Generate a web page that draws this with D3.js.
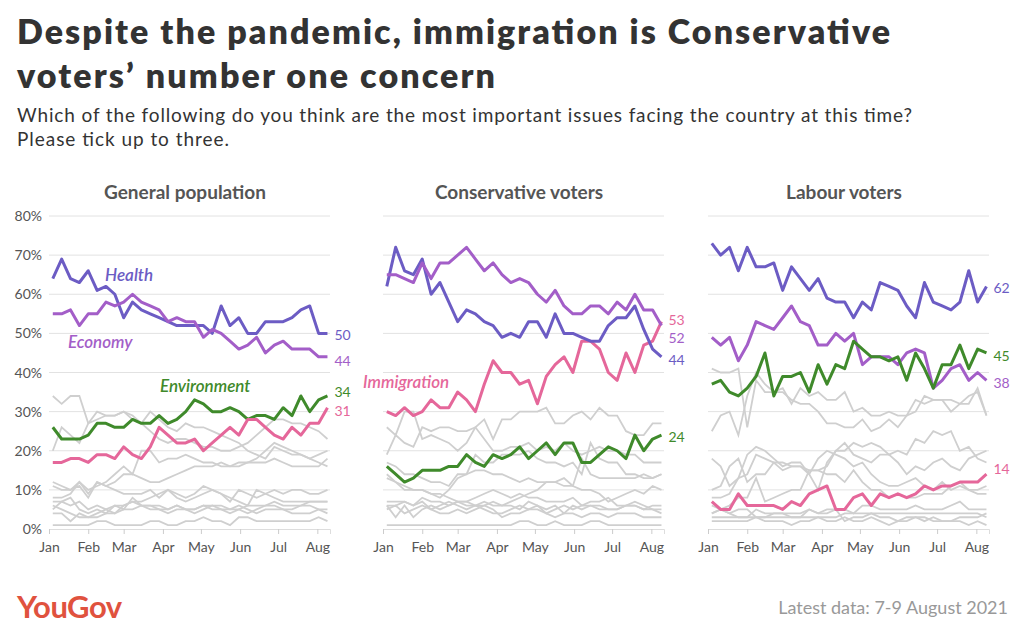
<!DOCTYPE html>
<html><head><meta charset="utf-8">
<script src="https://cdn.jsdelivr.net/npm/d3@7"></script>
<style>body{margin:0;background:#fff;font-family:Lato,"Open Sans",sans-serif}</style>
</head><body><svg id="c" width="1024" height="632"></svg>
<script>
const panels = ["General population","Conservative voters","Labour voters"];
const monthTicks = ["Jan","Feb","Mar","Apr","May","Jun","Jul","Aug"];
const yTicks = [0,10,20,30,40,50,60,70,80];

const genHealth=[64,69,64,63,66,61,62,60,54,58,56,55,54,53,52,52,52,52,50,57,52,54,50,50,53,53,53,54,56,57,50,50];
const genEconomy=[55,55,56,52,55,55,58,57,58,60,58,57,56,53,54,53,53,49,51,50,48,46,47,49,45,47,48,46,46,46,44,44];
const genEnvironment=[26,23,23,23,24,27,27,26,26,28,27,27,29,27,28,30,33,32,30,30,31,30,28,29,29,28,31,29,34,30,33,34];
const genImmigration=[17,17,18,18,17,19,19,18,21,19,18,21,26,24,22,22,23,20,22,24,26,24,28,28,26,24,23,26,24,27,27,31];
const genOther=[
[34,32,34,34,27,28,29,29,30,28,27,25,23,22,23,23,22,21,21,20,20,21,22,24,26,28,28,27,27,26,25,23],
[20,26,24,22,27,30,29,29,30,29,27,30,28,26,25,27,26,26,25,24,23,22,20,19,18,21,20,19,19,18,17,16],
[12,11,10,12,10,11,12,14,16,14,20,20,17,18,18,19,18,17,17,16,16,17,17,18,20,22,21,20,19,18,19,20],
[11,10,10,11,8,12,11,10,9,9,9,10,8,10,9,8,9,11,10,9,7,10,9,8,9,10,9,10,10,9,9,10],
[8,8,9,12,9,12,11,12,14,14,13,12,12,13,14,15,16,16,16,17,16,16,17,17,17,18,17,16,16,16,16,18],
[7,7,6,7,5,6,5,6,6,7,6,6,6,5,6,5,5,6,6,6,5,5,6,6,6,7,6,6,6,7,7,7],
[5,7,8,5,4,5,4,6,5,8,6,5,5,4,5,5,4,5,6,5,4,5,4,5,6,6,5,4,4,4,5,4],
[4,4,2,4,3,3,4,4,5,5,6,6,5,5,6,5,5,6,5,5,5,6,5,4,5,5,5,5,6,6,5,5],
[1,1,1,1,1,2,2,1,1,1,1,2,2,1,1,2,2,3,2,2,1,3,3,2,2,2,2,2,2,2,3,2],
[6,5,4,3,3,4,5,4,6,7,7,8,9,10,8,7,8,9,10,9,8,7,6,10,9,8,7,7,7,7,7,7]];

const conHealth=[62,72,66,65,69,60,63,58,53,56,55,53,52,49,50,49,53,53,49,55,50,50,49,48,48,52,54,54,57,51,46,44];
const conEconomy=[65,65,64,63,68,64,68,68,70,72,69,66,68,65,63,64,63,60,58,61,57,55,55,57,57,55,58,56,60,56,56,52];
const conEnvironment=[16,14,12,13,15,15,15,16,16,19,17,16,19,18,19,21,18,20,22,19,22,22,17,17,19,21,20,18,24,20,23,24];
const conImmigration=[30,29,31,29,30,33,31,31,35,33,30,37,43,40,40,37,38,32,39,42,44,40,48,48,46,40,38,45,40,47,48,53];
const conOther=[
[26,24,30,30,23,24,23,22,20,22,26,28,23,28,28,30,30,30,31,27,27,29,30,28,31,29,29,25,24,24,27,27],
[19,24,22,21,26,25,26,26,25,25,26,23,20,20,21,21,22,20,21,20,22,20,19,20,21,20,20,19,19,17,17,17],
[17,16,14,14,13,12,12,11,14,14,19,17,17,19,19,19,20,18,17,17,16,17,14,22,18,17,17,14,14,13,13,14],
[13,12,11,10,10,9,8,10,13,14,15,15,14,14,13,12,13,12,12,12,11,11,18,14,13,13,13,13,13,14,13,14],
[7,7,7,6,8,7,7,6,7,6,6,7,6,6,7,8,9,10,12,12,13,11,10,10,9,7,8,9,10,9,11,10],
[6,3,6,3,5,6,5,6,7,7,6,5,4,4,5,6,5,6,4,5,6,5,6,6,5,5,5,6,6,5,6,6],
[5,6,4,5,6,5,4,4,5,4,5,6,5,3,4,4,5,5,4,3,4,4,3,4,4,3,4,4,4,3,3,3],
[1,1,1,1,1,1,1,1,1,1,1,1,1,1,1,2,2,1,1,2,1,1,1,2,2,1,1,1,1,1,1,1],
[6,6,7,6,7,5,6,7,6,5,6,6,7,6,6,5,7,6,5,6,4,6,5,6,6,5,5,6,7,6,5,4],
[14,12,10,10,10,9,9,8,7,7,8,9,10,9,8,9,8,8,7,7,7,8,6,7,7,8,6,6,6,5,5,5]];

const labHealth=[73,70,72,66,72,67,67,68,61,67,64,61,64,59,58,58,54,58,56,63,62,61,57,54,63,58,57,56,58,66,58,62];
const labEconomy=[49,47,49,43,47,53,52,51,54,57,53,52,47,47,50,48,50,42,44,44,44,42,45,46,45,36,38,41,42,38,40,38];
const labEnvironment=[37,38,35,34,36,39,45,34,39,39,40,35,42,37,42,41,48,46,44,44,43,44,38,45,41,36,42,42,47,41,46,45];
const labImmigration=[7,5,5,9,6,6,6,6,5,7,6,9,10,11,5,5,8,9,6,9,8,9,8,9,11,10,11,11,12,12,12,14];
const labOther=[
[41,40,40,41,26,38,35,35,36,32,36,34,35,33,33,35,30,31,29,29,30,29,29,30,34,33,33,33,32,34,35,29],
[25,29,30,24,34,40,37,35,35,33,32,32,30,27,27,26,26,28,25,26,28,26,29,33,32,33,33,30,32,32,36,29],
[18,16,11,13,19,21,20,18,16,17,17,14,18,20,19,18,16,17,14,12,11,11,12,13,11,10,12,10,11,10,10,11],
[10,11,16,18,12,14,14,17,15,16,16,15,15,16,20,20,22,21,22,21,19,20,19,23,22,25,24,25,20,21,18,17],
[8,8,9,13,14,19,18,17,17,16,16,14,10,17,20,22,19,18,17,19,19,17,14,16,15,17,18,16,15,18,19,20],
[6,5,6,8,8,13,7,8,9,10,10,15,15,14,14,12,15,12,10,10,8,9,8,8,9,9,9,11,12,10,9,9],
[4,5,4,3,3,5,4,4,4,3,3,5,4,5,5,5,4,6,6,5,5,5,5,6,5,5,5,6,7,5,5,5],
[3,3,3,3,3,3,3,3,3,3,3,3,3,3,3,4,4,4,4,4,4,4,4,4,4,4,4,4,4,4,4,3],
[4,5,4,5,5,3,3,4,4,4,4,5,4,4,5,2,3,3,4,3,3,2,3,3,2,3,2,2,3,3,3,4],
[2,2,2,2,2,3,2,2,2,1,2,2,3,2,2,3,2,2,3,2,1,2,2,3,3,2,2,2,2,1,2,1]];

const dates = d3.range(32).map(i=>new Date(2021,0,4+7*i));
const C={Health:"#6c5cc4",Economy:"#a35ec8",Environment:"#3f8a2b",Immigration:"#e5679a"};
const panelData=[
 {other:genOther,s:{Health:genHealth,Economy:genEconomy,Environment:genEnvironment,Immigration:genImmigration},
  ends:{Health:[0,2],Economy:[0,4],Environment:[0,-4],Immigration:[0,3]}, x0:49},
 {other:conOther,s:{Environment:conEnvironment,Immigration:conImmigration,Health:conHealth,Economy:conEconomy},
  ends:{Immigration:[0,-2],Economy:[0,12],Health:[0,3],Environment:[0,2]}, x0:383},
 {other:labOther,s:{Immigration:labImmigration,Economy:labEconomy,Environment:labEnvironment,Health:labHealth},
  ends:{Health:[0,2],Economy:[0,3],Environment:[0,3],Immigration:[0,-5]}, x0:708}];
const endLabelShow=[["Health","Economy","Environment","Immigration"],["Immigration","Economy","Health","Environment"],["Health","Economy","Environment","Immigration"]];

const svg=d3.select("#c");
const T=(x,yy,s,size,w,len)=>svg.append("text").attr("x",x).attr("y",yy).attr("font-size",size).attr("font-weight",w).attr("fill","#333").attr("textLength",len).attr("lengthAdjust","spacing").text(s);
T(17,44,"Despite the pandemic, immigration is Conservative",34,800,873);
T(17,88,"voters’ number one concern",34,800,478);
T(17,122,"Which of the following do you think are the most important issues facing the country at this time?",19,400,895);
T(17,146,"Please tick up to three.",19,400,212);

const y=d3.scaleLinear().domain([0,80]).range([529,216]);
panelData.forEach((p,pi)=>{
  const x=d3.scaleTime().domain([new Date(2021,0,1),new Date(2021,7,11)]).range([p.x0,p.x0+281]);
  const g=svg.append("g");
  g.append("text").attr("x",p.x0+136).attr("y",199).attr("text-anchor","middle").attr("font-size",19).attr("font-weight",700).attr("fill","#555").text(panels[pi]);
  g.selectAll(".grid").data(yTicks.filter(v=>v>0)).join("line").attr("x1",p.x0).attr("x2",p.x0+281)
   .attr("y1",d=>y(d)).attr("y2",d=>y(d)).attr("stroke","#e2e2e2").attr("stroke-width",1);
  if(pi===0) g.selectAll(".yl").data(yTicks).join("text").attr("x",42).attr("y",d=>y(d)+5).attr("text-anchor","end")
   .attr("font-size",14).attr("fill","#555").text(d=>d+"%");
  const months=d3.range(8).map(m=>new Date(2021,m,1));
  const ax=g.append("g").attr("transform","translate(0,529)").call(d3.axisBottom(x).tickValues(months).tickSize(5).tickFormat((d,i)=>monthTicks[i]));
  ax.select(".domain").attr("stroke","#ddd");
  ax.selectAll(".tick line").attr("stroke","#ccc");
  ax.selectAll("text").attr("font-size",14).attr("fill","#555").attr("font-family","Lato,sans-serif").attr("dy","1.1em");
  const line=d3.line().x((d,i)=>x(dates[i])).y(d=>y(d));
  g.selectAll(".o").data(p.other).join("path").attr("d",line).attr("fill","none").attr("stroke","#cfcfcf").attr("stroke-width",1.8);
  Object.entries(p.s).forEach(([k,v])=>{
    g.append("path").attr("d",line(v)).attr("fill","none").attr("stroke",C[k]).attr("stroke-width",3).attr("stroke-linejoin","round");
  });
  endLabelShow[pi].forEach(k=>{
    const v=p.s[k]; const n=p.ends[k];
    g.append("text").attr("x",x(dates[31])+7).attr("y",y(v[31])+5+n[1]).attr("font-size",14).attr("fill",C[k]).text(v[31]);
  });
});
const lab=[["Health",105,281],["Economy",68,348],["Environment",160,392],["Immigration",363,388]];
lab.forEach(([k,xx,yy])=>svg.append("text").attr("x",xx).attr("y",yy).attr("font-size",17).attr("font-style","italic").attr("font-weight",600).attr("fill",C[k]).text(k));
svg.append("text").attr("x",17).attr("y",618).attr("font-size",31).attr("font-weight",700).attr("fill","#e0523e").attr("letter-spacing",-0.5).text("YouGov");
svg.append("text").attr("x",1008).attr("y",614).attr("text-anchor","end").attr("font-size",18).attr("fill","#999").text("Latest data: 7-9 August 2021");
</script></body></html>
